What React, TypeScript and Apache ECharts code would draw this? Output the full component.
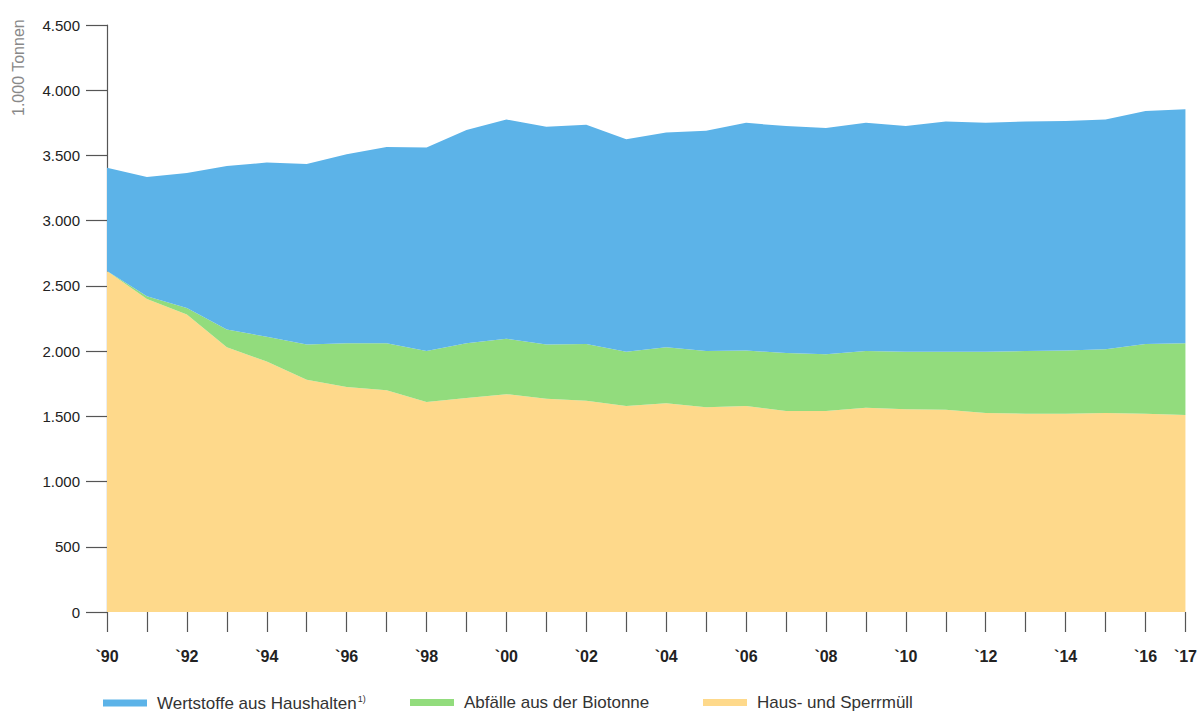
import React, { useEffect, useRef } from "react";
import * as echarts from "echarts";

const years = ["90","91","92","93","94","95","96","97","98","99","00","01","02","03","04","05","06","07","08","09","10","11","12","13","14","15","16","17"];
const labeledYears = ["90","92","94","96","98","00","02","04","06","08","10","12","14","16","17"];
const hausSperrmuell = [2615,2400,2280,2030,1920,1780,1725,1700,1610,1640,1670,1635,1620,1580,1600,1570,1580,1540,1540,1565,1555,1550,1525,1520,1520,1525,1520,1510];
const biotonne = [0,20,50,135,190,270,335,360,390,420,425,415,435,415,430,430,425,445,435,435,440,445,470,480,485,490,535,550];
const wertstoffe = [790,915,1035,1255,1335,1385,1450,1505,1560,1635,1680,1670,1680,1630,1645,1690,1745,1740,1735,1750,1730,1765,1755,1760,1760,1760,1785,1795];
const seriesNames = ["Wertstoffe aus Haushalten", "Abfälle aus der Biotonne", "Haus- und Sperrmüll"];
const colors = { blue: "#5cb3e8", green: "#92dc7d", yellow: "#fed98b" };

const FONT = "'Liberation Sans Narrow', 'Liberation Sans', Arial, sans-serif";

function fmt(v: number) {
  return String(v).replace(/\B(?=(\d{3})+(?!\d))/g, ".");
}

export default function App() {
  const ref = useRef<HTMLDivElement>(null);
  useEffect(() => {
    if (!ref.current) return;
    const chart = echarts.init(ref.current, undefined, { renderer: "svg" });
    const area = (name: string, data: number[], color: string) => ({
      name,
      type: "line",
      stack: "total",
      data,
      showSymbol: false,
      symbol: "none",
      lineStyle: { width: 0, color },
      itemStyle: { color },
      areaStyle: { color, opacity: 1 },
    });
    const legendAt = (name: string, left: number) => ({
      left,
      top: 694,
      icon: "rect",
      itemWidth: 44,
      itemHeight: 7,
      padding: 0,
      data: [name],
      textStyle: {
        fontSize: 17,
        fontFamily: FONT,
        color: "#333",
        padding: [0, 0, 0, 5],
        rich: {
          n: { fontSize: 17, fontFamily: FONT, color: "#333" },
          sup: { fontSize: 9, fontFamily: FONT, color: "#333", verticalAlign: "top", padding: [0, 0, 9, 1] },
        },
      },
      formatter: (n: string) => (n === seriesNames[0] ? "{n|" + n + "}{sup|1)}" : "{n|" + n + "}"),
    });
    chart.setOption({
      animation: false,
      backgroundColor: "#ffffff",
      grid: { left: 107, right: 12, top: 25, bottom: 102, containLabel: false },
      xAxis: {
        type: "category",
        data: years,
        boundaryGap: false,
        axisLine: { show: false },
        axisTick: { show: true, length: 20, inside: false, lineStyle: { color: "#555", width: 1.2 }, interval: 0 },
        axisLabel: {
          interval: 0,
          margin: 36,
          fontSize: 16,
          fontFamily: FONT,
          fontWeight: "bold",
          color: "#222",
          formatter: (v: string) => (labeledYears.indexOf(v) >= 0 ? "`" + v : ""),
        },
        splitLine: { show: false },
      },
      yAxis: {
        type: "value",
        min: 0,
        max: 4500,
        interval: 500,
        axisLine: { show: true, lineStyle: { color: "#555", width: 1.2 } },
        axisTick: { show: true, length: 21, lineStyle: { color: "#555", width: 1.2 } },
        axisLabel: { margin: 27, fontSize: 15, fontFamily: FONT, color: "#222", formatter: (v: number) => fmt(v) },
        splitLine: { show: false },
      },
      legend: [
        legendAt(seriesNames[0], 103),
        legendAt(seriesNames[1], 410),
        legendAt(seriesNames[2], 703),
      ],
      graphic: [
        {
          type: "text",
          x: 10,
          y: 116,
          rotation: Math.PI / 2,
          style: { text: "1.000 Tonnen", fontSize: 16, fontFamily: FONT, fill: "#888", textVerticalAlign: "top" },
        },
      ],
      series: [
        area(seriesNames[2], hausSperrmuell, colors.yellow),
        area(seriesNames[1], biotonne, colors.green),
        area(seriesNames[0], wertstoffe, colors.blue),
      ],
    });
    return () => chart.dispose();
  }, []);
  return <div ref={ref} style={{ position: "absolute", left: 0, top: 0, width: 1200, height: 714 }} />;
}
